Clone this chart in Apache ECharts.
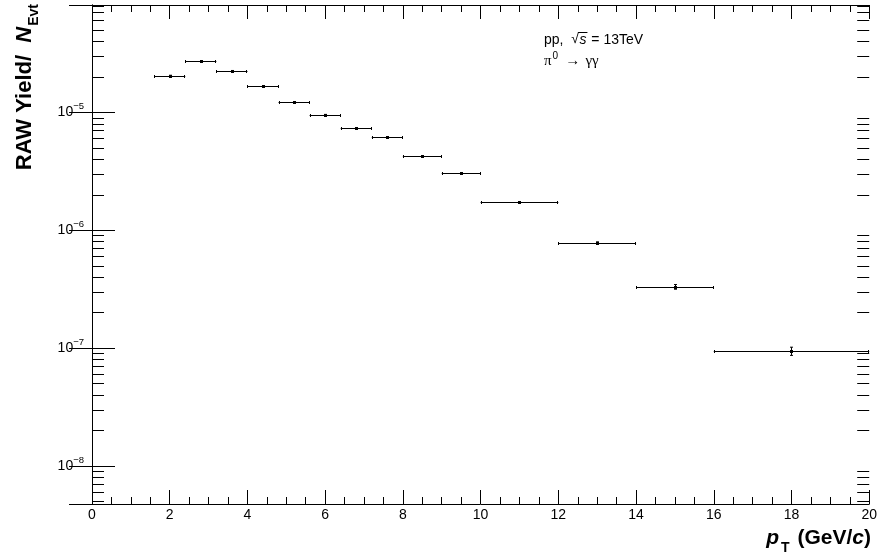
<!DOCTYPE html>
<html><head><meta charset="utf-8">
<script src="https://cdn.jsdelivr.net/npm/echarts@6/dist/echarts.min.js"></script>
<style>html,body{margin:0;padding:0;background:#fff}#c{width:880px;height:552px}</style>
</head><body><div id="c"></div>
<script>
// ---- data ----
const binCenter = [2.0, 2.8, 3.6, 4.4, 5.2, 6.0, 6.8, 7.6, 8.5, 9.5, 11, 13, 15, 18];
const binLow    = [1.6, 2.4, 3.2, 4.0, 4.8, 5.6, 6.4, 7.2, 8.0, 9.0, 10, 12, 14, 16];
const binHigh   = [2.4, 3.2, 4.0, 4.8, 5.6, 6.4, 7.2, 8.0, 9.0, 10, 12, 14, 16, 20];
const rawYield  = [2.04e-5, 2.71e-5, 2.24e-5, 1.66e-5, 1.21e-5, 9.5e-6, 7.31e-6, 6.13e-6, 4.23e-6, 3.02e-6, 1.72e-6, 7.79e-7, 3.30e-7, 9.4e-8];
const yieldErr  = [1.5e-7, 1.8e-7, 1.5e-7, 1.1e-7, 0.9e-7, 0.7e-7, 0.6e-7, 0.55e-7, 0.4e-7, 0.35e-7, 0.25e-7, 1.5e-8, 1.5e-8, 7.5e-9];
const yLabelExponents = [-8, -7, -6, -5];
const xTickLabels = ['0', '2', '4', '6', '8', '10', '12', '14', '16', '18', '20'];

const FONT = 'Liberation Sans, Arial, Helvetica, sans-serif';
const SERIF = 'Liberation Serif, Times New Roman, serif';
const yMin = 4.75e-9, yMax = 8.1e-5;
const xMin = 0, xMax = 20;

// minor log tick values (2..9 x 10^n) within range
const minorY = [];
for (let e = -9; e <= -5; e++) {
  for (let m = 2; m <= 9; m++) {
    const v = m * Math.pow(10, e);
    if (v > yMin && v < yMax) minorY.push([0, v]);
  }
}

const chart = echarts.init(document.getElementById('c'), null, {renderer: 'canvas'});

const xAxisBase = {
  type: 'value', min: xMin, max: xMax, interval: 2,
  axisLine: {show: true, lineStyle: {color: '#000', width: 1}},
  axisTick: {show: true, inside: true, length: 14, lineStyle: {color: '#000'}},
  minorTick: {show: true, splitNumber: 4, length: 7, lineStyle: {color: '#000'}},
  splitLine: {show: false}, minorSplitLine: {show: false}
};
const yAxisBase = {
  type: 'log', logBase: 10, min: yMin, max: yMax,
  axisLine: {show: true, lineStyle: {color: '#000', width: 1}},
  axisTick: {show: true, inside: true, length: 23, lineStyle: {color: '#000'}},
  splitLine: {show: false}
};

function yLabel(v) {
  const e = Math.log10(v);
  const r = Math.round(e);
  if (Math.abs(e - r) > 1e-6 || yLabelExponents.indexOf(r) < 0) return '';
  return '{b|10}{s|' + (r < 0 ? '\u2212' : '') + Math.abs(r) + '}';
}

function renderPoint(params, api) {
  const xc = api.value(0), xl = api.value(1), xh = api.value(2), y = api.value(3), e = api.value(4);
  const c = api.coord([xc, y]);
  const l = api.coord([xl, y]);
  const h = api.coord([xh, y]);
  const t = api.coord([xc, y + e]);
  const b = api.coord([xc, y - e]);
  const yy = Math.round(c[1]) + 0.5;
  const xx = Math.round(c[0]) + 0.5;
  const st = {stroke: '#000', lineWidth: 1};
  const children = [
    {type: 'line', shape: {x1: l[0], y1: yy, x2: h[0], y2: yy}, style: st},
    {type: 'line', shape: {x1: Math.round(l[0]) + 0.5, y1: yy - 1.5, x2: Math.round(l[0]) + 0.5, y2: yy + 1.5}, style: st},
    {type: 'line', shape: {x1: Math.round(h[0]) - 0.5, y1: yy - 1.5, x2: Math.round(h[0]) - 0.5, y2: yy + 1.5}, style: st},
    {type: 'line', shape: {x1: xx, y1: t[1], x2: xx, y2: b[1]}, style: st},
    {type: 'line', shape: {x1: xx - 1.5, y1: t[1], x2: xx + 1.5, y2: t[1]}, style: st},
    {type: 'line', shape: {x1: xx - 1.5, y1: b[1], x2: xx + 1.5, y2: b[1]}, style: st},
    {type: 'rect', shape: {x: xx - 1.5, y: yy - 1.5, width: 3, height: 3}, style: {fill: '#000'}}
  ];
  return {type: 'group', children: children};
}

function renderMinor(params, api) {
  const v = api.value(1);
  const pl = api.coord([xMin, v]);
  const pr = api.coord([xMax, v]);
  const y = Math.round(pl[1]) + 0.5;
  const st = {stroke: '#000', lineWidth: 1};
  return {type: 'group', children: [
    {type: 'line', shape: {x1: pl[0], y1: y, x2: pl[0] + 12, y2: y}, style: st},
    {type: 'line', shape: {x1: pr[0] - 12, y1: y, x2: pr[0], y2: y}, style: st}
  ]};
}

// text measurement for the annotation line with sqrt(s)
const mctx = document.createElement('canvas').getContext('2d');
function tw(txt, font) { mctx.font = font; return mctx.measureText(txt).width; }
const AF = 14;
const fReg = AF + 'px ' + FONT;
const fIt = 'italic ' + AF + 'px ' + FONT;
const ax0 = 544, ay0 = 40;
const wPP = tw('pp,  ', fReg);
const wRoot = tw('\u221A', fReg);
const wS = tw('s', fIt);
const xRoot = ax0 + wPP;
const xS = xRoot + wRoot + 0.5;
const xEq = xS + wS + 1;

const option = {
  backgroundColor: '#fff',
  animation: false,
  grid: {left: 92, right: 8, top: 5, bottom: 48, containLabel: false},
  xAxis: [
    Object.assign({}, xAxisBase, {position: 'bottom',
      axisLabel: {show: true, color: '#000', fontSize: 14, fontFamily: FONT, margin: 4,
        formatter: function (v) { const i = Math.round(v / 2); return (Math.abs(v - i * 2) < 1e-9 && xTickLabels[i] !== undefined) ? xTickLabels[i] : ''; }}}),
    Object.assign({}, xAxisBase, {position: 'top', axisLabel: {show: false}})
  ],
  yAxis: [
    Object.assign({}, yAxisBase, {position: 'left',
      axisLabel: {show: true, color: '#000', fontFamily: FONT, margin: 8, formatter: yLabel,
        rich: {
          b: {fontSize: 14, fontFamily: FONT, color: '#000', verticalAlign: 'bottom', lineHeight: 14},
          s: {fontSize: 9.5, fontFamily: FONT, color: '#000', verticalAlign: 'bottom', lineHeight: 10, padding: [0, 0, 8, 0]}
        }}}),
    Object.assign({}, yAxisBase, {position: 'right', axisLabel: {show: false}})
  ],
  series: [
    {
      type: 'custom', name: 'minor', xAxisIndex: 0, yAxisIndex: 0,
      data: minorY, encode: {x: 0, y: 1}, renderItem: renderMinor, silent: true, clip: false
    },
    {
      type: 'custom', name: 'yield', xAxisIndex: 0, yAxisIndex: 0,
      dimensions: ['x', 'xl', 'xh', 'y', 'e'],
      data: binCenter.map((x, i) => [x, binLow[i], binHigh[i], rawYield[i], yieldErr[i]]),
      encode: {x: 0, y: 3}, renderItem: renderPoint, clip: false
    }
  ],
  graphic: [
    {
      type: 'text', x: 25, y: 4, rotation: Math.PI / 2,
      style: {
        text: '{a|RAW Yield/  }{n|N}{s|Evt}', align: 'right', verticalAlign: 'middle',
        rich: {
          a: {fontSize: 22, fontWeight: 'bold', fontFamily: FONT, fill: '#000', verticalAlign: 'top', lineHeight: 22},
          n: {fontSize: 22, fontWeight: 'bold', fontStyle: 'italic', fontFamily: FONT, fill: '#000', verticalAlign: 'top', lineHeight: 22},
          s: {fontSize: 14, fontWeight: 'bold', fontFamily: FONT, fill: '#000', verticalAlign: 'top', lineHeight: 14, padding: [13, 0, 0, 1]}
        }
      }
    },
    {
      type: 'text', x: 871, y: 539,
      style: {
        text: '{p|p}{t|T}{a| (GeV/}{c|c}{a|)}', align: 'right', verticalAlign: 'middle',
        rich: {
          p: {fontSize: 21, fontWeight: 'bold', fontStyle: 'italic', fontFamily: FONT, fill: '#000', verticalAlign: 'top', lineHeight: 22},
          t: {fontSize: 14, fontWeight: 'bold', fontFamily: FONT, fill: '#000', verticalAlign: 'top', lineHeight: 14, padding: [13, 2, 0, 2]},
          a: {fontSize: 21, fontWeight: 'bold', fontFamily: FONT, fill: '#000', verticalAlign: 'top', lineHeight: 22},
          c: {fontSize: 21, fontWeight: 'bold', fontStyle: 'italic', fontFamily: FONT, fill: '#000', verticalAlign: 'top', lineHeight: 22}
        }
      }
    },
    {type: 'text', x: ax0, y: ay0, style: {text: 'pp,', font: fReg, fill: '#000', align: 'left', verticalAlign: 'middle'}},
    {type: 'text', x: xRoot, y: ay0 - 1, style: {text: '\u221A', font: fReg, fill: '#000', align: 'left', verticalAlign: 'middle'}},
    {type: 'line', shape: {x1: xRoot + wRoot - 1, y1: ay0 - 7.5, x2: xS + wS + 1, y2: ay0 - 7.5}, style: {stroke: '#000', lineWidth: 1}},
    {type: 'text', x: xS, y: ay0, style: {text: 's', font: fIt, fill: '#000', align: 'left', verticalAlign: 'middle'}},
    {type: 'text', x: xEq, y: ay0, style: {text: ' = 13TeV', font: fReg, fill: '#000', align: 'left', verticalAlign: 'middle'}},
    {
      type: 'text', x: ax0, y: 61,
      style: {
        text: '{g|\u03C0}{u|0}{a| \u2192 }{g|\u03B3\u03B3}', align: 'left', verticalAlign: 'middle',
        rich: {
          g: {fontSize: 15, fontFamily: SERIF, fill: '#000', verticalAlign: 'bottom', lineHeight: 15},
          u: {fontSize: 10, fontFamily: FONT, fill: '#000', verticalAlign: 'bottom', lineHeight: 10, padding: [0, 2, 7, 1]},
          a: {fontSize: 15, fontFamily: FONT, fill: '#000', verticalAlign: 'bottom', lineHeight: 15, padding: [0, 1, 0, 1]}
        }
      }
    }
  ]
};
chart.setOption(option);
</script>
</body></html>
